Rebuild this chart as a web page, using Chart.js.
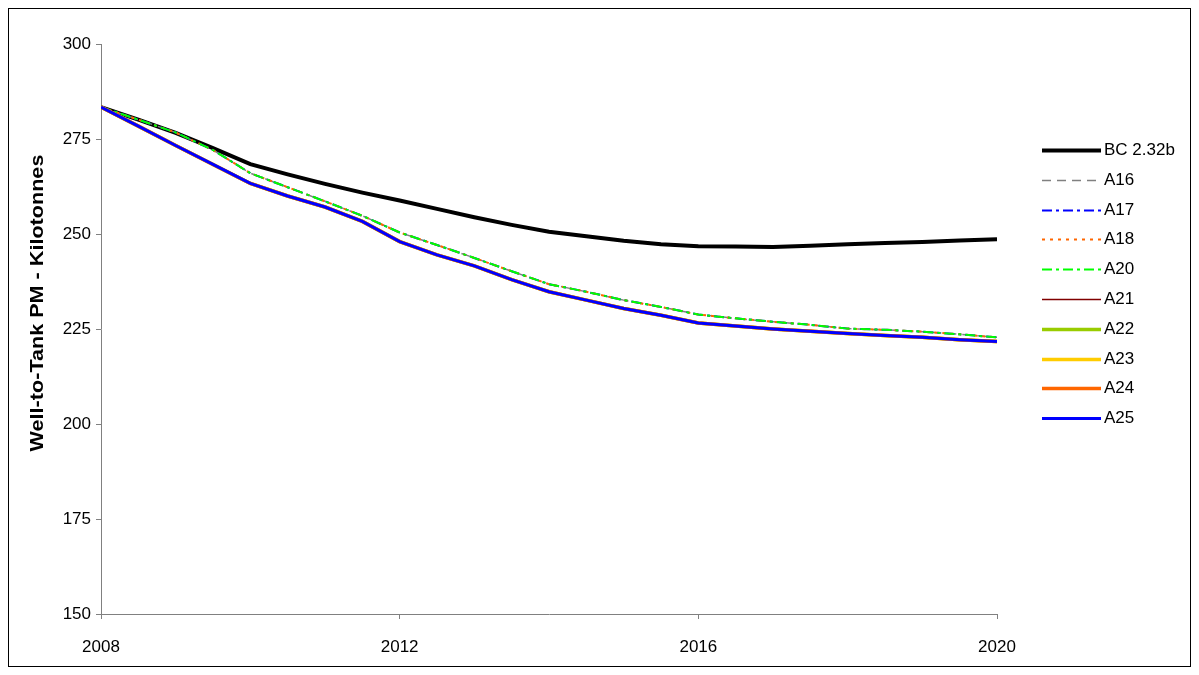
<!DOCTYPE html>
<html>
<head>
<meta charset="utf-8">
<script src="https://cdn.jsdelivr.net/npm/chart.js@4/dist/chart.umd.min.js"></script>
<style>
  html, body { margin: 0; padding: 0; background: #ffffff; }
  #wrap { width: 1199px; height: 675px; position: relative; }
</style>
</head>
<body>
<div id="wrap"><canvas id="c" width="1199" height="675"></canvas></div>
<script>
// ---- Data ----
const years = [2008, 2008.5, 2009, 2009.5, 2010, 2010.5, 2011, 2011.5, 2012, 2012.5, 2013, 2013.5,
               2014, 2014.5, 2015, 2015.5, 2016, 2016.5, 2017, 2017.5, 2018, 2018.5, 2019, 2019.5, 2020];

const bcValues  = [283.4, 280.1, 276.6, 272.6, 268.4, 265.7, 263.2, 260.9, 258.8, 256.6, 254.4, 252.4,
                   250.6, 249.4, 248.2, 247.3, 246.8, 246.7, 246.6, 246.9, 247.3, 247.6, 247.9, 248.3, 248.6];

const a16Values = [283.4, 280.1, 276.7, 272.1, 266.0, 262.3, 258.6, 254.8, 250.4, 247.1, 243.7, 240.2,
                   236.8, 234.8, 232.6, 230.8, 228.8, 227.8, 226.9, 226.1, 225.1, 224.8, 224.3, 223.6, 222.8];
const a17Values = [283.4, 280.1, 276.7, 272.1, 266.0, 262.3, 258.6, 254.8, 250.4, 247.1, 243.7, 240.2,
                   236.8, 234.8, 232.6, 230.8, 228.8, 227.8, 226.9, 226.1, 225.1, 224.8, 224.3, 223.6, 222.8];
const a18Values = [283.4, 280.1, 276.7, 272.1, 266.0, 262.3, 258.6, 254.8, 250.4, 247.1, 243.7, 240.2,
                   236.8, 234.8, 232.6, 230.8, 228.8, 227.8, 226.9, 226.1, 225.1, 224.8, 224.3, 223.6, 222.8];
const a20Values = [283.4, 280.1, 276.7, 272.1, 266.0, 262.3, 258.6, 254.8, 250.4, 247.1, 243.7, 240.2,
                   236.8, 234.8, 232.6, 230.8, 228.8, 227.8, 226.9, 226.1, 225.1, 224.8, 224.3, 223.6, 222.8];

const a21Values = [283.4, 278.4, 273.3, 268.3, 263.3, 260.0, 257.1, 253.3, 248.0, 244.5, 241.6, 238.0,
                   234.8, 232.6, 230.4, 228.6, 226.6, 225.8, 225.0, 224.4, 223.8, 223.3, 222.8, 222.2, 221.7];
const a22Values = [283.4, 278.4, 273.3, 268.3, 263.3, 260.0, 257.1, 253.3, 248.0, 244.5, 241.6, 238.0,
                   234.8, 232.6, 230.4, 228.6, 226.6, 225.8, 225.0, 224.4, 223.8, 223.3, 222.8, 222.2, 221.7];
const a23Values = [283.4, 278.4, 273.3, 268.3, 263.3, 260.0, 257.1, 253.3, 248.0, 244.5, 241.6, 238.0,
                   234.8, 232.6, 230.4, 228.6, 226.6, 225.8, 225.0, 224.4, 223.8, 223.3, 222.8, 222.2, 221.7];
const a24Values = [283.4, 278.4, 273.3, 268.3, 263.3, 260.0, 257.1, 253.3, 248.0, 244.5, 241.6, 238.0,
                   234.8, 232.6, 230.4, 228.6, 226.6, 225.8, 225.0, 224.4, 223.8, 223.3, 222.8, 222.2, 221.7];
const a25Values = [283.4, 278.4, 273.3, 268.3, 263.3, 260.0, 257.1, 253.3, 248.0, 244.5, 241.6, 238.0,
                   234.8, 232.6, 230.4, 228.6, 226.6, 225.8, 225.0, 224.4, 223.8, 223.3, 222.8, 222.2, 221.7];

const seriesNames = ['BC 2.32b', 'A16', 'A17', 'A18', 'A20', 'A21', 'A22', 'A23', 'A24', 'A25'];
const yTickMin = 150, yTickMax = 300, yTickStep = 25;
const xTickMin = 2008, xTickMax = 2020, xTickStep = 4;
const yAxisTitle = 'Well-to-Tank PM - Kilotonnes';

// ---- Styles ----
const styles = [
  { color: '#000000', width: 4,   dash: [] },
  { color: '#808080', width: 1.5, dash: [9, 6] },
  { color: '#0000FF', width: 2,   dash: [10, 4, 3, 4] },
  { color: '#FF6600', width: 2,   dash: [3, 5] },
  { color: '#00FF00', width: 2,   dash: [10, 4, 3, 4] },
  { color: '#800000', width: 1.5, dash: [] },
  { color: '#99CC00', width: 3.5, dash: [] },
  { color: '#FFCC00', width: 3.5, dash: [] },
  { color: '#FF6600', width: 3.5, dash: [] },
  { color: '#0000FF', width: 3,   dash: [] }
];
const valueArrays = [bcValues, a16Values, a17Values, a18Values, a20Values,
                     a21Values, a22Values, a23Values, a24Values, a25Values];

const datasets = seriesNames.map((name, i) => ({
  label: name,
  data: years.map((x, k) => ({ x: x, y: valueArrays[i][k] })),
  borderColor: styles[i].color,
  backgroundColor: styles[i].color,
  borderWidth: styles[i].width,
  borderDash: styles[i].dash,
  pointRadius: 0,
  pointHoverRadius: 0,
  tension: 0,
  fill: false,
  order: seriesNames.length - i
}));

const FONT = '"Liberation Sans", Arial, sans-serif';

const extrasPlugin = {
  id: 'extras',
  afterDraw(chart) {
    const ctx = chart.ctx;
    ctx.save();
    // outer border
    ctx.strokeStyle = '#000000';
    ctx.lineWidth = 1;
    ctx.setLineDash([]);
    ctx.strokeRect(8.5, 8.5, 1182, 658);
    // y-axis title
    ctx.fillStyle = '#000000';
    ctx.font = 'bold 18px ' + FONT;
    ctx.textAlign = 'center';
    ctx.textBaseline = 'middle';
    ctx.translate(38, 303);
    ctx.rotate(-Math.PI / 2);
    ctx.scale(1.2, 1);
    ctx.fillText(yAxisTitle, 0, 0);
    ctx.restore();

    // legend
    ctx.save();
    const x0 = 1042, x1 = 1101, tx = 1104, y0 = 150, step = 29.8;
    chart.data.datasets.forEach((ds, i) => {
      const y = Math.round(y0 + step * i) + 0.5;
      ctx.beginPath();
      ctx.strokeStyle = ds.borderColor;
      ctx.lineWidth = ds.borderWidth;
      ctx.setLineDash(ds.borderDash || []);
      ctx.moveTo(x0, y);
      ctx.lineTo(x1, y);
      ctx.stroke();
      ctx.setLineDash([]);
      ctx.fillStyle = '#000000';
      ctx.font = '17px ' + FONT;
      ctx.textAlign = 'left';
      ctx.textBaseline = 'middle';
      ctx.fillText(ds.label, tx, y);
    });
    ctx.restore();
  }
};

new Chart(document.getElementById('c'), {
  type: 'line',
  data: { datasets: datasets },
  options: {
    responsive: false,
    animation: false,
    events: [],
    layout: { padding: { left: 0, top: 44, right: 202, bottom: 0 } },
    plugins: { legend: { display: false }, tooltip: { enabled: false }, title: { display: false } },
    scales: {
      x: {
        type: 'linear',
        min: xTickMin, max: xTickMax,
        border: { display: true, color: '#808080', width: 1 },
        grid: { drawOnChartArea: false, drawTicks: true, tickLength: 5, color: '#808080' },
        ticks: {
          stepSize: xTickStep, padding: 18, color: '#000000',
          font: { family: FONT, size: 17 },
          maxRotation: 0,
          callback: v => String(v)
        },
        afterFit(s) { s.height = 61; }
      },
      y: {
        type: 'linear',
        min: yTickMin, max: yTickMax,
        border: { display: true, color: '#808080', width: 1 },
        grid: { drawOnChartArea: false, drawTicks: true, tickLength: 5, color: '#808080' },
        ticks: {
          stepSize: yTickStep, padding: 5, color: '#000000',
          font: { family: FONT, size: 17 },
          callback: v => String(v)
        },
        afterFit(s) { s.width = 101; }
      }
    }
  },
  plugins: [extrasPlugin]
});
</script>
</body>
</html>
